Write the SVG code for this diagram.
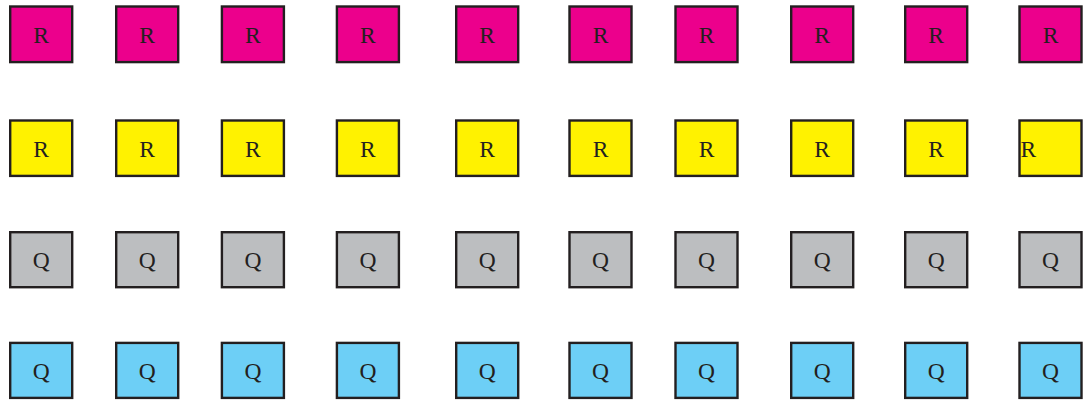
<svg xmlns="http://www.w3.org/2000/svg" width="1091" height="402" viewBox="0 0 1091 402">
<style>
.n rect{stroke:#231F20;stroke-width:2.4}
.m rect{fill:#EC008C}
.y rect{fill:#FFF200}
.g rect{fill:#BCBEC0}
.b rect{fill:#6DCFF6}
text{font-family:"Liberation Serif","Times New Roman",serif;font-size:23.5px;fill:#231F20;text-anchor:middle}
</style>
<rect x="0" y="0" width="1091" height="402" fill="#fff"/>
<g id="connectors"/>
<g class="n m">
<g id="r1c1"><rect x="10.2" y="6.5" width="62" height="55.6"/><text x="41.2" y="42.6">R</text></g>
<g id="r1c2"><rect x="116.2" y="6.5" width="62" height="55.6"/><text x="147.2" y="42.6">R</text></g>
<g id="r1c3"><rect x="221.9" y="6.5" width="62" height="55.6"/><text x="252.9" y="42.6">R</text></g>
<g id="r1c4"><rect x="336.9" y="6.5" width="62" height="55.6"/><text x="367.9" y="42.6">R</text></g>
<g id="r1c5"><rect x="456.2" y="6.5" width="62" height="55.6"/><text x="487.2" y="42.6">R</text></g>
<g id="r1c6"><rect x="569.5" y="6.5" width="62" height="55.6"/><text x="600.5" y="42.6">R</text></g>
<g id="r1c7"><rect x="675.5" y="6.5" width="62" height="55.6"/><text x="706.5" y="42.6">R</text></g>
<g id="r1c8"><rect x="791.2" y="6.5" width="62" height="55.6"/><text x="822.2" y="42.6">R</text></g>
<g id="r1c9"><rect x="905.2" y="6.5" width="62" height="55.6"/><text x="936.2" y="42.6">R</text></g>
<g id="r1c10"><rect x="1019.5" y="6.5" width="62" height="55.6"/><text x="1050.5" y="42.6">R</text></g>
</g>
<g class="n y">
<g id="r2c1"><rect x="10.2" y="120.5" width="62" height="55.4"/><text x="41.2" y="156.5">R</text></g>
<g id="r2c2"><rect x="116.2" y="120.5" width="62" height="55.4"/><text x="147.2" y="156.5">R</text></g>
<g id="r2c3"><rect x="221.9" y="120.5" width="62" height="55.4"/><text x="252.9" y="156.5">R</text></g>
<g id="r2c4"><rect x="336.9" y="120.5" width="62" height="55.4"/><text x="367.9" y="156.5">R</text></g>
<g id="r2c5"><rect x="456.2" y="120.5" width="62" height="55.4"/><text x="487.2" y="156.5">R</text></g>
<g id="r2c6"><rect x="569.5" y="120.5" width="62" height="55.4"/><text x="600.5" y="156.5">R</text></g>
<g id="r2c7"><rect x="675.5" y="120.5" width="62" height="55.4"/><text x="706.5" y="156.5">R</text></g>
<g id="r2c8"><rect x="791.2" y="120.5" width="62" height="55.4"/><text x="822.2" y="156.5">R</text></g>
<g id="r2c9"><rect x="905.2" y="120.5" width="62" height="55.4"/><text x="936.2" y="156.5">R</text></g>
<g id="r2c10"><rect x="1019.5" y="120.5" width="62" height="55.4"/><text x="1020.5" y="156.5" style="text-anchor:start">R</text></g>
</g>
<g class="n g">
<g id="r3c1"><rect x="10.2" y="232.2" width="62" height="55"/><text x="41.2" y="268">Q</text></g>
<g id="r3c2"><rect x="116.2" y="232.2" width="62" height="55"/><text x="147.2" y="268">Q</text></g>
<g id="r3c3"><rect x="221.9" y="232.2" width="62" height="55"/><text x="252.9" y="268">Q</text></g>
<g id="r3c4"><rect x="336.9" y="232.2" width="62" height="55"/><text x="367.9" y="268">Q</text></g>
<g id="r3c5"><rect x="456.2" y="232.2" width="62" height="55"/><text x="487.2" y="268">Q</text></g>
<g id="r3c6"><rect x="569.5" y="232.2" width="62" height="55"/><text x="600.5" y="268">Q</text></g>
<g id="r3c7"><rect x="675.5" y="232.2" width="62" height="55"/><text x="706.5" y="268">Q</text></g>
<g id="r3c8"><rect x="791.2" y="232.2" width="62" height="55"/><text x="822.2" y="268">Q</text></g>
<g id="r3c9"><rect x="905.2" y="232.2" width="62" height="55"/><text x="936.2" y="268">Q</text></g>
<g id="r3c10"><rect x="1019.5" y="232.2" width="62" height="55"/><text x="1050.5" y="268">Q</text></g>
</g>
<g class="n b">
<g id="r4c1"><rect x="10.2" y="342.9" width="62" height="55"/><text x="41.2" y="378.7">Q</text></g>
<g id="r4c2"><rect x="116.2" y="342.9" width="62" height="55"/><text x="147.2" y="378.7">Q</text></g>
<g id="r4c3"><rect x="221.9" y="342.9" width="62" height="55"/><text x="252.9" y="378.7">Q</text></g>
<g id="r4c4"><rect x="336.9" y="342.9" width="62" height="55"/><text x="367.9" y="378.7">Q</text></g>
<g id="r4c5"><rect x="456.2" y="342.9" width="62" height="55"/><text x="487.2" y="378.7">Q</text></g>
<g id="r4c6"><rect x="569.5" y="342.9" width="62" height="55"/><text x="600.5" y="378.7">Q</text></g>
<g id="r4c7"><rect x="675.5" y="342.9" width="62" height="55"/><text x="706.5" y="378.7">Q</text></g>
<g id="r4c8"><rect x="791.2" y="342.9" width="62" height="55"/><text x="822.2" y="378.7">Q</text></g>
<g id="r4c9"><rect x="905.2" y="342.9" width="62" height="55"/><text x="936.2" y="378.7">Q</text></g>
<g id="r4c10"><rect x="1019.5" y="342.9" width="62" height="55"/><text x="1050.5" y="378.7">Q</text></g>
</g>
</svg>
